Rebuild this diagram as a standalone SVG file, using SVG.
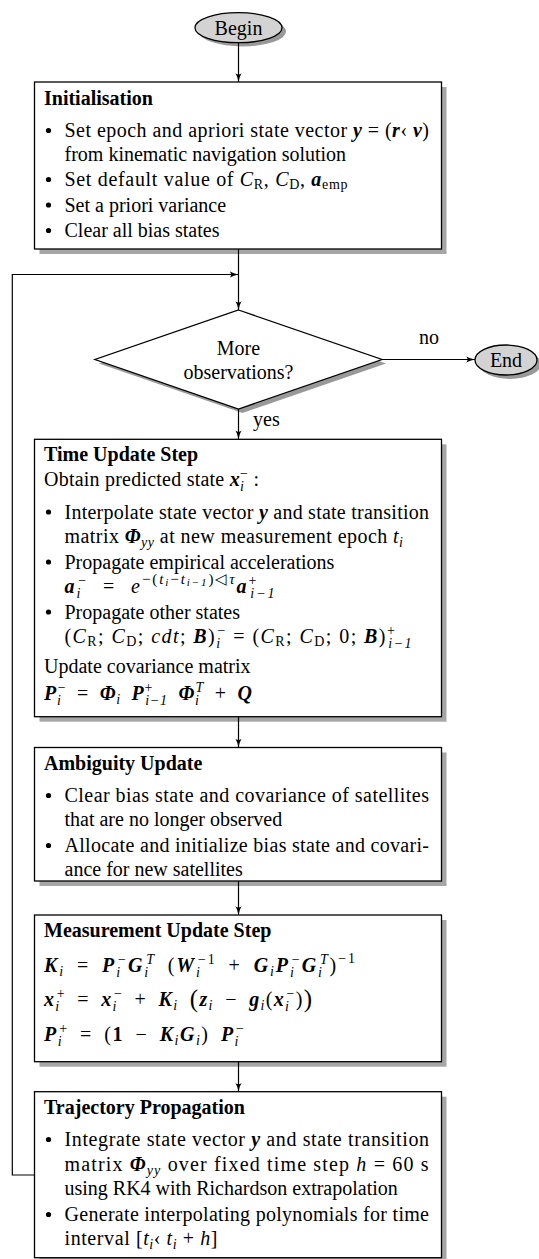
<svg xmlns="http://www.w3.org/2000/svg" width="539" height="1259" viewBox="0 0 539 1259">
<style>
  text { font-family: "Liberation Serif", "Times New Roman", serif; font-size: 20px; fill: #000; }
  .b { font-weight: bold; }
  .i { font-style: italic; }
  .bi { font-weight: bold; font-style: italic; }
  .s { font-size: 14px; }
  .sx { font-size: 15px; }
  .ss { font-size: 11px; font-style: italic; }
  .big { font-size: 25px; }
  .m { word-spacing: 5px; }
  .box { fill: #fff; stroke: #000; stroke-width: 1.3; }
  .shadow { fill: #a6a6a6; }
  .term { fill: #d3d3d3; stroke: #000; stroke-width: 1.3; }
  .tshadow { fill: #999; }
  .mid { text-anchor: middle; }
  .wire { fill: none; stroke: #000; stroke-width: 1.2; }
</style>
<defs>
  <marker id="arr" viewBox="0 0 10 8" refX="10" refY="4" markerWidth="9" markerHeight="7" orient="auto" markerUnits="userSpaceOnUse">
    <path d="M0,0.5 Q4,3 10,4 Q4,5 0,7.5 Q3,4 0,0.5z" fill="#000"/>
  </marker>
  <circle id="dot" r="2.6" fill="#000"/>
</defs>
<rect width="539" height="1259" fill="#fff"/>

<!-- start terminal -->
<g id="begin">
  <ellipse class="tshadow" cx="242.5" cy="31.5" rx="43.5" ry="15"/>
  <ellipse class="term" cx="238.5" cy="27.7" rx="43.5" ry="15"/>
  <text class="mid" x="238.5" y="34.5">Begin</text>
</g>

<!-- initialisation -->
<g id="init">
  <rect class="shadow" x="39.5" y="87" width="407" height="167"/>
  <rect class="box" x="34.5" y="82" width="407" height="167"/>
  <text class="b" x="44" y="104.5">Initialisation</text>
  <use href="#dot" x="48.5" y="130.5"/>
  <text x="64.5" y="137" textLength="364.5">Set epoch and apriori state vector <tspan class="bi">y</tspan> = (<tspan class="bi">r</tspan>‹ <tspan class="bi">v</tspan>)</text>
  <text x="64.5" y="161">from kinematic navigation solution</text>
  <use href="#dot" x="48.5" y="179.5"/>
  <text x="64.5" y="186" textLength="283">Set default value of <tspan class="i">C</tspan><tspan class="s" dy="3">R</tspan><tspan dy="-3">, </tspan><tspan class="i">C</tspan><tspan class="s" dy="3">D</tspan><tspan dy="-3">, </tspan><tspan class="bi">a</tspan><tspan class="s" dy="3">emp</tspan></text>
  <use href="#dot" x="48.5" y="205"/>
  <text x="64.5" y="211.5">Set a priori variance</text>
  <use href="#dot" x="48.5" y="230.5"/>
  <text x="64.5" y="237">Clear all bias states</text>
</g>

<!-- decision -->
<g id="decision">
  <polygon class="tshadow" points="242.5,314 386,363.5 242.5,413 99,363.5"/>
  <polygon class="box" points="238.5,310 382,359.5 238.5,409 95,359.5"/>
  <text class="mid" x="238.5" y="355">More</text>
  <text class="mid" x="238.5" y="379">observations?</text>
</g>

<!-- end terminal -->
<g id="end">
  <ellipse class="tshadow" cx="510" cy="364" rx="31" ry="15"/>
  <ellipse class="term" cx="506" cy="360" rx="31" ry="15"/>
  <text class="mid" x="506" y="366.5">End</text>
</g>

<!-- time update -->
<g id="time-update">
  <rect class="shadow" x="39.5" y="444.3" width="407" height="277.4"/>
  <rect class="box" x="34.5" y="439.3" width="407" height="277.4"/>
  <text class="b" x="44" y="461">Time Update Step</text>
  <text x="44" y="486" textLength="215">Obtain predicted state <tspan class="bi">x</tspan><tspan class="s i" dy="5">i</tspan><tspan class="s" dx="-3.9" dy="-13">−</tspan><tspan dy="8"> :</tspan></text>
  <use href="#dot" x="48.5" y="512"/>
  <text x="64.5" y="518.5" textLength="364.5">Interpolate state vector <tspan class="bi">y</tspan> and state transition</text>
  <text x="64.5" y="543" textLength="338.5">matrix <tspan class="bi">Φ</tspan><tspan class="s i" dy="4">yy</tspan><tspan dy="-4"> at new measurement epoch </tspan><tspan class="i">t</tspan><tspan class="s i" dy="4">i</tspan></text>
  <use href="#dot" x="48.5" y="562"/>
  <text x="64.5" y="568.5">Propagate empirical accelerations</text>
  <text x="64.5" y="593" textLength="210" style="word-spacing:8px"><tspan class="bi">a</tspan><tspan class="s i" dy="5">i</tspan><tspan class="s" dx="-3.9" dy="-13">−</tspan><tspan dy="8"> = </tspan><tspan class="i">e</tspan><tspan class="sx" dy="-9">−(</tspan><tspan class="sx i">t</tspan><tspan class="ss" dy="2">i</tspan><tspan class="sx" dy="-2">−</tspan><tspan class="sx i">t</tspan><tspan class="ss" dy="2">i−1</tspan><tspan class="sx" dy="-2">)◁</tspan><tspan class="sx i">τ</tspan><tspan class="bi" dy="9">a</tspan><tspan class="s" dy="-8">+</tspan><tspan class="s i" dx="-7.9" dy="13">i−1</tspan></text>
  <use href="#dot" x="48.5" y="612"/>
  <text x="64.5" y="618.5">Propagate other states</text>
  <text x="64.5" y="643" textLength="347">(<tspan class="i">C</tspan><tspan class="s" dy="3">R</tspan><tspan dy="-3">; </tspan><tspan class="i">C</tspan><tspan class="s" dy="3">D</tspan><tspan dy="-3">; </tspan><tspan class="i">cdt</tspan>; <tspan class="bi">B</tspan>)<tspan class="s i" dy="5">i</tspan><tspan class="s" dx="-3.9" dy="-13">−</tspan><tspan dy="8"> = (</tspan><tspan class="i">C</tspan><tspan class="s" dy="3">R</tspan><tspan dy="-3">; </tspan><tspan class="i">C</tspan><tspan class="s" dy="3">D</tspan><tspan dy="-3">; 0; </tspan><tspan class="bi">B</tspan>)<tspan class="s" dy="-8">+</tspan><tspan class="s i" dx="-7.9" dy="13">i−1</tspan></text>
  <text x="44" y="673">Update covariance matrix</text>
  <text class="m" x="44" y="700" textLength="208"><tspan class="bi">P</tspan><tspan class="s i" dy="5">i</tspan><tspan class="s" dx="-3.9" dy="-13">−</tspan><tspan dy="8"> = </tspan><tspan class="bi">Φ</tspan><tspan class="s i" dy="4">i</tspan><tspan dy="-4"> </tspan><tspan class="bi">P</tspan><tspan class="s" dy="-8">+</tspan><tspan class="s i" dx="-7.9" dy="13">i−1</tspan><tspan dy="-5"> </tspan><tspan class="bi">Φ</tspan><tspan class="s i" dy="5">i</tspan><tspan class="s i" dx="-3.9" dy="-13">T</tspan><tspan dy="8"> + </tspan><tspan class="bi">Q</tspan></text>
</g>

<!-- ambiguity update -->
<g id="ambiguity-update">
  <rect class="shadow" x="39.5" y="752.5" width="407" height="133.5"/>
  <rect class="box" x="34.5" y="747.5" width="407" height="133.5"/>
  <text class="b" x="44" y="769.5">Ambiguity Update</text>
  <use href="#dot" x="48.5" y="795.5"/>
  <text x="64.5" y="802" textLength="364.5">Clear bias state and covariance of satellites</text>
  <text x="64.5" y="826">that are no longer observed</text>
  <use href="#dot" x="48.5" y="845.5"/>
  <text x="64.5" y="852" textLength="364.5">Allocate and initialize bias state and covari-</text>
  <text x="64.5" y="876">ance for new satellites</text>
</g>

<!-- measurement update -->
<g id="measurement-update">
  <rect class="shadow" x="39.5" y="920" width="407" height="146.7"/>
  <rect class="box" x="34.5" y="915" width="407" height="146.7"/>
  <text class="b" x="44" y="937">Measurement Update Step</text>
  <text class="m" x="44" y="972" textLength="311"><tspan class="bi">K</tspan><tspan class="s i" dy="4">i</tspan><tspan dy="-4"> = </tspan><tspan class="bi">P</tspan><tspan class="s i" dy="5">i</tspan><tspan class="s" dx="-3.9" dy="-13">−</tspan><tspan class="bi" dy="8">G</tspan><tspan class="s i" dy="5">i</tspan><tspan class="s i" dx="-3.9" dy="-13">T</tspan><tspan dy="8"> (</tspan><tspan class="bi">W</tspan><tspan class="s i" dy="5">i</tspan><tspan class="s" dx="-3.9" dy="-13">−1</tspan><tspan dy="8"> + </tspan><tspan class="bi">G</tspan><tspan class="s i" dy="4">i</tspan><tspan class="bi" dy="-4">P</tspan><tspan class="s i" dy="5">i</tspan><tspan class="s" dx="-3.9" dy="-13">−</tspan><tspan class="bi" dy="8">G</tspan><tspan class="s i" dy="5">i</tspan><tspan class="s i" dx="-3.9" dy="-13">T</tspan><tspan dy="8">)</tspan><tspan class="s" dy="-9">−1</tspan></text>
  <text class="m" x="44" y="1006" textLength="268"><tspan class="bi">x</tspan><tspan class="s i" dy="5">i</tspan><tspan class="s" dx="-3.9" dy="-13">+</tspan><tspan dy="8"> = </tspan><tspan class="bi">x</tspan><tspan class="s i" dy="5">i</tspan><tspan class="s" dx="-3.9" dy="-13">−</tspan><tspan dy="8"> + </tspan><tspan class="bi">K</tspan><tspan class="s i" dy="4">i</tspan><tspan dy="-4"> </tspan><tspan class="big" dy="1">(</tspan><tspan class="bi" dy="-1">z</tspan><tspan class="s i" dy="4">i</tspan><tspan dy="-4"> − </tspan><tspan class="bi">g</tspan><tspan class="s i" dy="4">i</tspan><tspan dy="-4">(</tspan><tspan class="bi">x</tspan><tspan class="s i" dy="5">i</tspan><tspan class="s" dx="-3.9" dy="-13">−</tspan><tspan dy="8">)</tspan><tspan class="big" dy="1">)</tspan></text>
  <text class="m" x="44" y="1041" textLength="200"><tspan class="bi">P</tspan><tspan class="s i" dy="5">i</tspan><tspan class="s" dx="-3.9" dy="-13">+</tspan><tspan dy="8"> = (</tspan><tspan class="b">1</tspan> − <tspan class="bi">K</tspan><tspan class="s i" dy="4">i</tspan><tspan class="bi" dy="-4">G</tspan><tspan class="s i" dy="4">i</tspan><tspan dy="-4">) </tspan><tspan class="bi">P</tspan><tspan class="s i" dy="5">i</tspan><tspan class="s" dx="-3.9" dy="-13">−</tspan></text>
</g>

<!-- trajectory propagation -->
<g id="trajectory-propagation">
  <rect class="shadow" x="39.5" y="1096.7" width="407" height="166"/>
  <rect class="box" x="34.5" y="1091.7" width="407" height="166"/>
  <text class="b" x="44" y="1114">Trajectory Propagation</text>
  <use href="#dot" x="48.5" y="1139.5"/>
  <text x="64.5" y="1146" textLength="364.5">Integrate state vector <tspan class="bi">y</tspan> and state transition</text>
  <text x="64.5" y="1171" textLength="364">matrix <tspan class="bi">Φ</tspan><tspan class="s i" dy="4">yy</tspan><tspan dy="-4"> over fixed time step </tspan><tspan class="i">h</tspan> = 60 s</text>
  <text x="64.5" y="1195">using RK4 with Richardson extrapolation</text>
  <use href="#dot" x="48.5" y="1214.5"/>
  <text x="64.5" y="1221" textLength="364.5">Generate interpolating polynomials for time</text>
  <text x="64.5" y="1245" textLength="153">interval [<tspan class="i">t</tspan><tspan class="s i" dy="4">i</tspan><tspan dy="-4">‹ </tspan><tspan class="i">t</tspan><tspan class="s i" dy="4">i</tspan><tspan dy="-4"> + </tspan><tspan class="i">h</tspan>]</text>
</g>

<!-- connectors -->
<g id="connectors">
  <path class="wire" d="M238.5,42.7 V82" marker-end="url(#arr)"/>
  <path class="wire" d="M238.5,249 V310" marker-end="url(#arr)"/>
  <path class="wire" d="M34.5,1175 H12.3 V274.5 H238.5" marker-end="url(#arr)"/>
  <path class="wire" d="M382,359.5 H475" marker-end="url(#arr)"/>
  <text class="mid" x="429" y="344">no</text>
  <path class="wire" d="M238.5,409 V439.3" marker-end="url(#arr)"/>
  <text x="253" y="426">yes</text>
  <path class="wire" d="M238.5,716.7 V747.5" marker-end="url(#arr)"/>
  <path class="wire" d="M238.5,881 V915" marker-end="url(#arr)"/>
  <path class="wire" d="M238.5,1061.7 V1091.7" marker-end="url(#arr)"/>
</g>
</svg>
